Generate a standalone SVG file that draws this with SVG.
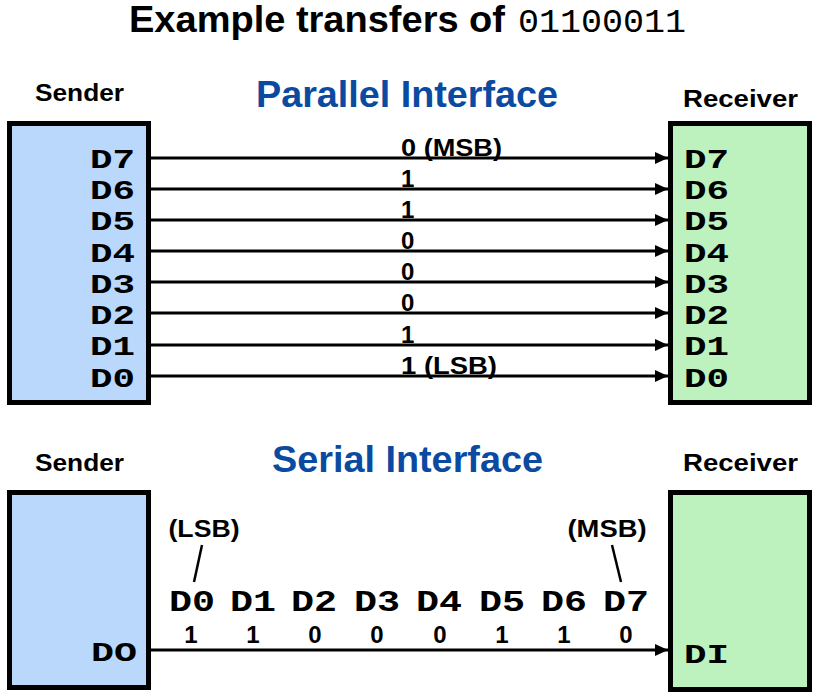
<svg xmlns="http://www.w3.org/2000/svg" width="820" height="699" viewBox="0 0 820 699">
<defs>
<style>
.sans{font-family:"Liberation Sans",Arial,sans-serif;font-weight:bold;fill:#000}
.mono{font-family:"Liberation Mono","Courier New",monospace;font-weight:bold;fill:#000}
.head{font-size:23px}
.iface{font-size:37px;fill:#0a4aa0}
.pin{font-size:28px}
.bit{font-size:24px}
.snd{fill:#b9d8fb;stroke:#000;stroke-width:5}
.rcv{fill:#bdf1bd;stroke:#000;stroke-width:5}
.wire{stroke:#000;stroke-width:3;fill:none}
.tick{stroke:#000;stroke-width:2.5;fill:none}
</style>
<marker id="arr" markerUnits="userSpaceOnUse" markerWidth="14" markerHeight="12" refX="13" refY="6" orient="auto">
<path d="M0,0 L13,6 L0,12 z" fill="#000"/>
</marker>
</defs>
<rect width="820" height="699" fill="#fff"/>

<g id="title">
<text class="sans" x="129" y="32" font-size="37" textLength="376" lengthAdjust="spacingAndGlyphs">Example transfers of</text>
<text x="518" y="32" font-family="Liberation Mono, monospace" font-size="34" textLength="168" lengthAdjust="spacingAndGlyphs">01100011</text>
</g>

<g id="parallel-title">
<text class="sans iface" x="256" y="107" textLength="302" lengthAdjust="spacingAndGlyphs">Parallel Interface</text>
</g>

<g id="parallel-sender">
<text class="sans head" x="35" y="101" textLength="89" lengthAdjust="spacingAndGlyphs">Sender</text>
<rect class="snd" x="9.5" y="123.5" width="139" height="279"/>
<g class="mono pin">
<text x="90" y="168" textLength="45" lengthAdjust="spacingAndGlyphs">D7</text>
<text x="90" y="199" textLength="45" lengthAdjust="spacingAndGlyphs">D6</text>
<text x="90" y="230" textLength="45" lengthAdjust="spacingAndGlyphs">D5</text>
<text x="90" y="262" textLength="45" lengthAdjust="spacingAndGlyphs">D4</text>
<text x="90" y="293" textLength="45" lengthAdjust="spacingAndGlyphs">D3</text>
<text x="90" y="324" textLength="45" lengthAdjust="spacingAndGlyphs">D2</text>
<text x="90" y="355" textLength="45" lengthAdjust="spacingAndGlyphs">D1</text>
<text x="90" y="387" textLength="45" lengthAdjust="spacingAndGlyphs">D0</text>
</g>
</g>

<g id="parallel-receiver">
<text class="sans head" x="683" y="107" textLength="115" lengthAdjust="spacingAndGlyphs">Receiver</text>
<rect class="rcv" x="670.5" y="123.5" width="139" height="279"/>
<g class="mono pin">
<text x="684" y="168" textLength="45" lengthAdjust="spacingAndGlyphs">D7</text>
<text x="684" y="199" textLength="45" lengthAdjust="spacingAndGlyphs">D6</text>
<text x="684" y="230" textLength="45" lengthAdjust="spacingAndGlyphs">D5</text>
<text x="684" y="262" textLength="45" lengthAdjust="spacingAndGlyphs">D4</text>
<text x="684" y="293" textLength="45" lengthAdjust="spacingAndGlyphs">D3</text>
<text x="684" y="324" textLength="45" lengthAdjust="spacingAndGlyphs">D2</text>
<text x="684" y="355" textLength="45" lengthAdjust="spacingAndGlyphs">D1</text>
<text x="684" y="387" textLength="45" lengthAdjust="spacingAndGlyphs">D0</text>
</g>
</g>

<g id="parallel-connectors">
<line class="wire" x1="151" y1="158" x2="668" y2="158" marker-end="url(#arr)"/>
<line class="wire" x1="151" y1="189" x2="668" y2="189" marker-end="url(#arr)"/>
<line class="wire" x1="151" y1="220" x2="668" y2="220" marker-end="url(#arr)"/>
<line class="wire" x1="151" y1="251" x2="668" y2="251" marker-end="url(#arr)"/>
<line class="wire" x1="151" y1="282" x2="668" y2="282" marker-end="url(#arr)"/>
<line class="wire" x1="151" y1="313" x2="668" y2="313" marker-end="url(#arr)"/>
<line class="wire" x1="151" y1="345" x2="668" y2="345" marker-end="url(#arr)"/>
<line class="wire" x1="151" y1="376" x2="668" y2="376" marker-end="url(#arr)"/>
<g class="sans bit">
<text x="401" y="156" textLength="101" lengthAdjust="spacingAndGlyphs">0 (MSB)</text>
<text x="401" y="187">1</text>
<text x="401" y="218">1</text>
<text x="401" y="249">0</text>
<text x="401" y="280">0</text>
<text x="401" y="311">0</text>
<text x="401" y="343">1</text>
<text x="401" y="374" textLength="96" lengthAdjust="spacingAndGlyphs">1 (LSB)</text>
</g>
</g>

<g id="serial-title">
<text class="sans iface" x="272" y="472" textLength="271" lengthAdjust="spacingAndGlyphs">Serial Interface</text>
</g>

<g id="serial-sender">
<text class="sans head" x="35" y="471" textLength="89" lengthAdjust="spacingAndGlyphs">Sender</text>
<rect class="snd" x="9.5" y="492.5" width="139" height="195"/>
<text class="mono pin" x="91" y="661" textLength="46" lengthAdjust="spacingAndGlyphs">DO</text>
</g>

<g id="serial-receiver">
<text class="sans head" x="683" y="471" textLength="115" lengthAdjust="spacingAndGlyphs">Receiver</text>
<rect class="rcv" x="670.5" y="492.5" width="139" height="197"/>
<text class="mono pin" x="684" y="663" textLength="45" lengthAdjust="spacingAndGlyphs">DI</text>
</g>

<g id="serial-connectors">
<line class="wire" x1="151" y1="650" x2="668" y2="650" marker-end="url(#arr)"/>
<g class="mono" font-size="30">
<text x="169" y="611" textLength="46" lengthAdjust="spacingAndGlyphs">D0</text>
<text x="230" y="611" textLength="46" lengthAdjust="spacingAndGlyphs">D1</text>
<text x="291" y="611" textLength="46" lengthAdjust="spacingAndGlyphs">D2</text>
<text x="354" y="611" textLength="46" lengthAdjust="spacingAndGlyphs">D3</text>
<text x="416" y="611" textLength="46" lengthAdjust="spacingAndGlyphs">D4</text>
<text x="479" y="611" textLength="46" lengthAdjust="spacingAndGlyphs">D5</text>
<text x="541" y="611" textLength="46" lengthAdjust="spacingAndGlyphs">D6</text>
<text x="603" y="611" textLength="46" lengthAdjust="spacingAndGlyphs">D7</text>
</g>
<g class="sans bit" text-anchor="middle">
<text x="191" y="643">1</text>
<text x="253" y="643">1</text>
<text x="315" y="643">0</text>
<text x="377" y="643">0</text>
<text x="440" y="643">0</text>
<text x="502" y="643">1</text>
<text x="564" y="643">1</text>
<text x="626" y="643">0</text>
</g>
<text class="sans bit" x="204" y="537" text-anchor="middle" textLength="71" lengthAdjust="spacingAndGlyphs">(LSB)</text>
<line class="tick" x1="202" y1="545" x2="194" y2="582"/>
<text class="sans bit" x="607" y="537" text-anchor="middle" textLength="79" lengthAdjust="spacingAndGlyphs">(MSB)</text>
<line class="tick" x1="612" y1="545" x2="621" y2="582"/>
</g>
</svg>
